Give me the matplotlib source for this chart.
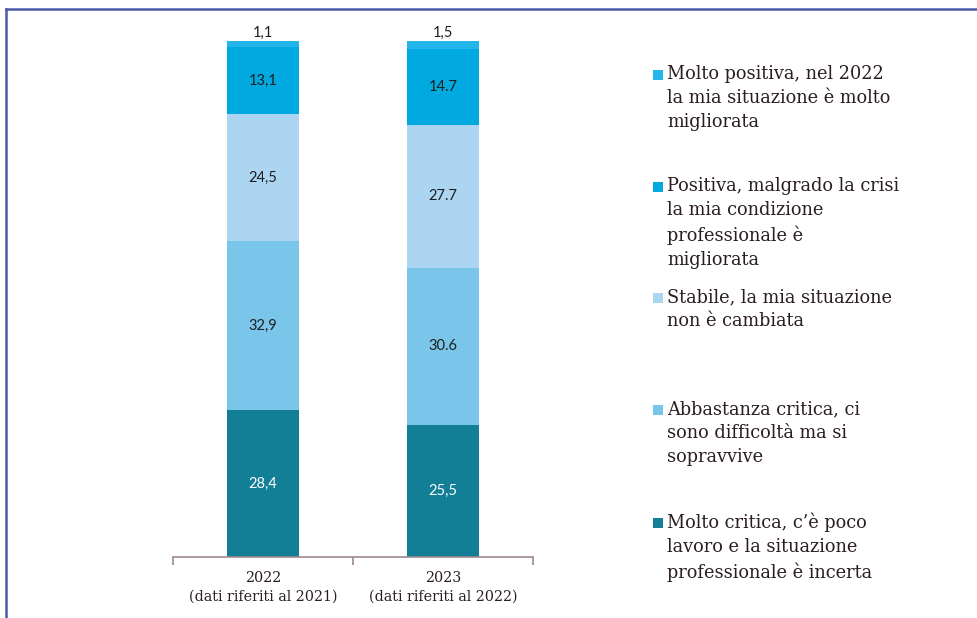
import numpy as np
import matplotlib.pyplot as plt
from matplotlib.patches import Rectangle
from matplotlib.lines import Line2D

# data, bottom to top of each stacked bar
categories = ["2022\n(dati riferiti al 2021)", "2023\n(dati riferiti al 2022)"]
series = [
    "Molto critica, c\u2019\u00e8 poco\nlavoro e la situazione\nprofessionale \u00e8 incerta",
    "Abbastanza critica, ci\nsono difficolt\u00e0 ma si\nsopravvive",
    "Stabile, la mia situazione\nnon \u00e8 cambiata",
    "Positiva, malgrado la crisi\nla mia condizione\nprofessionale \u00e8\nmigliorata",
    "Molto positiva, nel 2022\nla mia situazione \u00e8 molto\nmigliorata",
]
values_2022 = [28.4, 32.9, 24.5, 13.1, 1.1]
values_2023 = [25.5, 30.6, 27.7, 14.7, 1.5]
labels_2022 = ["28,4", "32,9", "24,5", "13,1", "1,1"]
labels_2023 = ["25,5", "30.6", "27.7", "14.7", "1,5"]

colors = ["#127f96", "#7ac6ea", "#acd5f1", "#00a9df", "#22b5ea"]
label_colors = ["white", "#1e1e1e", "#1e1e1e", "#1e1e1e", "#1e1e1e"]
text_color = "#2a1e24"
serif = "DejaVu Serif"

fig = plt.figure(figsize=(9.77, 6.18), dpi=100)
ax = fig.add_axes([173 / 977, 61 / 618, 360 / 977, 516 / 618])

data = np.array([values_2022, values_2023])
labels = [labels_2022, labels_2023]
x = np.arange(len(categories))
bottom = np.zeros(len(categories))
for i in range(len(series)):
    ax.bar(x, data[:, i], bottom=bottom, width=0.4, color=colors[i], linewidth=0)
    for j in range(len(categories)):
        if i == len(series) - 1:
            ypos = bottom[j] + data[j, i] + 0.3
            va = "bottom"
        else:
            ypos = bottom[j] + data[j, i] / 2
            va = "center"
        ax.text(x[j], ypos, labels[j][i], ha="center", va=va, fontsize=10.5,
                color=label_colors[i], family="Lato")
    bottom += data[:, i]

ax.set_xlim(-0.5, 1.5)
ax.set_ylim(0, 100)
ax.set_yticks([])
for s in ["top", "right", "left"]:
    ax.spines[s].set_visible(False)
ax.spines["bottom"].set_color("#a08890")
ax.spines["bottom"].set_linewidth(1.2)
ax.set_xticks(x)
ax.set_xticklabels(categories, family=serif, fontsize=10.3, color=text_color,
                   linespacing=1.45)
ax.tick_params(axis="x", which="major", length=0, pad=10)
ax.set_xticks([-0.5, 0.5, 1.5], minor=True)
ax.tick_params(axis="x", which="minor", length=6, color="#a08890", width=1.2)

# legend drawn by hand, top entry first
legend_y = [75, 187, 298, 410, 523]
for k, yy in enumerate(legend_y):
    idx = len(series) - 1 - k
    fig.patches.append(Rectangle((653 / 977, 1 - (yy + 5) / 618), 10 / 977, 10 / 618,
                                 transform=fig.transFigure, color=colors[idx], lw=0))
    fig.text(667 / 977, 1 - (yy - 10) / 618, series[idx], ha="left", va="top",
             family=serif, fontsize=12.8, color=text_color, linespacing=1.42)

# frame lines
fig.lines.append(Line2D([6 / 977, 1], [1 - 9 / 618, 1 - 9 / 618], transform=fig.transFigure,
                        color="#4a5aa8", lw=1.8))
fig.lines.append(Line2D([6 / 977, 6 / 977], [0, 1 - 9 / 618], transform=fig.transFigure,
                        color="#4a5aa8", lw=1.8))

fig.savefig("out.png", dpi=100)
